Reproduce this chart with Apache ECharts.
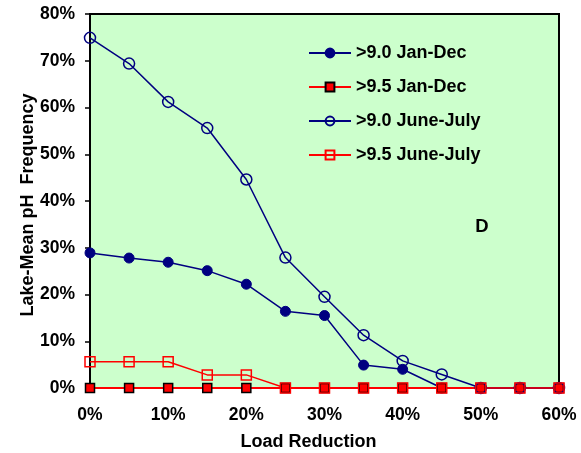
<!DOCTYPE html>
<html>
<head>
<meta charset="utf-8">
<script src="https://cdn.jsdelivr.net/npm/echarts@6/dist/echarts.min.js"></script>
<style>html,body{margin:0;padding:0;background:#fff;}#c{width:581px;height:453px;}</style>
</head>
<body>
<div id="c"></div>
<script>
var loadReduction = [0, 5, 10, 15, 20, 25, 30, 35, 40, 45, 50, 55, 60];
var ph90JanDec = [28.9, 27.8, 26.9, 25.1, 22.2, 16.4, 15.5, 4.9, 4.0, 0, 0, 0, 0];
var ph95JanDec = [0, 0, 0, 0, 0, 0, 0, 0, 0, 0, 0, 0, 0];
var ph90JuneJuly = [74.9, 69.4, 61.2, 55.6, 44.6, 27.9, 19.5, 11.3, 5.8, 2.9, 0, 0, 0];
var ph95JuneJuly = [5.6, 5.6, 5.6, 2.8, 2.8, 0, 0, 0, 0, 0, 0, 0, 0];
var seriesNames = ['>9.0 Jan-Dec', '>9.5 Jan-Dec', '>9.0 June-July', '>9.5 June-July'];

function pairs(vals) { return loadReduction.map(function (x, i) { return [x, vals[i]]; }); }

var font = 'Arial, "Liberation Sans", sans-serif';
var chart = echarts.init(document.getElementById('c'));
chart.setOption({
  animation: false,
  grid: { left: 90, right: 22, top: 14, bottom: 65, containLabel: false, outerBoundsMode: 'none',
          show: true, backgroundColor: '#CCFFCC', borderColor: '#000', borderWidth: 2 },
  legend: {
    orient: 'vertical', left: 303, top: 39, itemWidth: 42, itemHeight: 11, itemGap: 16,
    textStyle: { fontFamily: font, fontWeight: 'bold', fontSize: 18, color: '#000' },
    data: seriesNames
  },
  xAxis: {
    type: 'value', min: 0, max: 60, interval: 10,
    name: 'Load Reduction', nameLocation: 'middle', nameGap: 45,
    nameTextStyle: { fontFamily: font, fontWeight: 'bold', fontSize: 18, color: '#000', padding: [0, 32, 0, 0] },
    axisLine: { lineStyle: { color: '#000', width: 2 } },
    axisTick: { show: true, length: 4, lineStyle: { color: '#000', width: 1.5 } },
    splitLine: { show: false },
    axisLabel: { formatter: '{value}%', margin: 18, fontFamily: font, fontWeight: 'bold', fontSize: 17.5, color: '#000' }
  },
  yAxis: {
    type: 'value', min: 0, max: 80, interval: 10,
    name: 'Lake-Mean pH  Frequency', nameLocation: 'middle', nameGap: 53, nameMoveOverlap: false,
    nameTextStyle: { fontFamily: font, fontWeight: 'bold', fontSize: 18, color: '#000', padding: [0, 8, 0, 0] },
    axisLine: { lineStyle: { color: '#000', width: 2 } },
    axisTick: { show: true, length: 5, lineStyle: { color: '#000', width: 1.5 } },
    splitLine: { show: false },
    axisLabel: { formatter: '{value}%', margin: 15, fontFamily: font, fontWeight: 'bold', fontSize: 17.5, color: '#000' }
  },
  graphic: [{ type: 'text', x: 482, y: 227, style: { text: 'D', font: 'bold 18.5px Arial, "Liberation Sans", sans-serif', fill: '#000', textAlign: 'center', textVerticalAlign: 'middle' } }],
  series: [
    { name: seriesNames[0], type: 'line', data: pairs(ph90JanDec), symbol: 'circle', symbolSize: 10,
      lineStyle: { color: '#000080', width: 1.5 }, itemStyle: { color: '#000080', borderColor: '#000080', borderWidth: 1 } },
    { name: seriesNames[1], type: 'line', data: pairs(ph95JanDec), symbol: 'rect', symbolSize: 9,
      lineStyle: { color: '#FF0000', width: 2 }, itemStyle: { color: '#FF0000', borderColor: '#000', borderWidth: 1.5 } },
    { name: seriesNames[2], type: 'line', data: pairs(ph90JuneJuly), symbol: 'circle', symbolSize: 11,
      lineStyle: { color: '#000080', width: 1.5 }, itemStyle: { color: 'rgba(0,0,0,0)', borderColor: '#000080', borderWidth: 1.5 } },
    { name: seriesNames[3], type: 'line', data: pairs(ph95JuneJuly), symbol: 'rect', symbolSize: 10,
      lineStyle: { color: '#FF0000', width: 1.5 }, itemStyle: { color: 'rgba(0,0,0,0)', borderColor: '#FF0000', borderWidth: 1.5 } }
  ]
});
</script>
</body>
</html>
